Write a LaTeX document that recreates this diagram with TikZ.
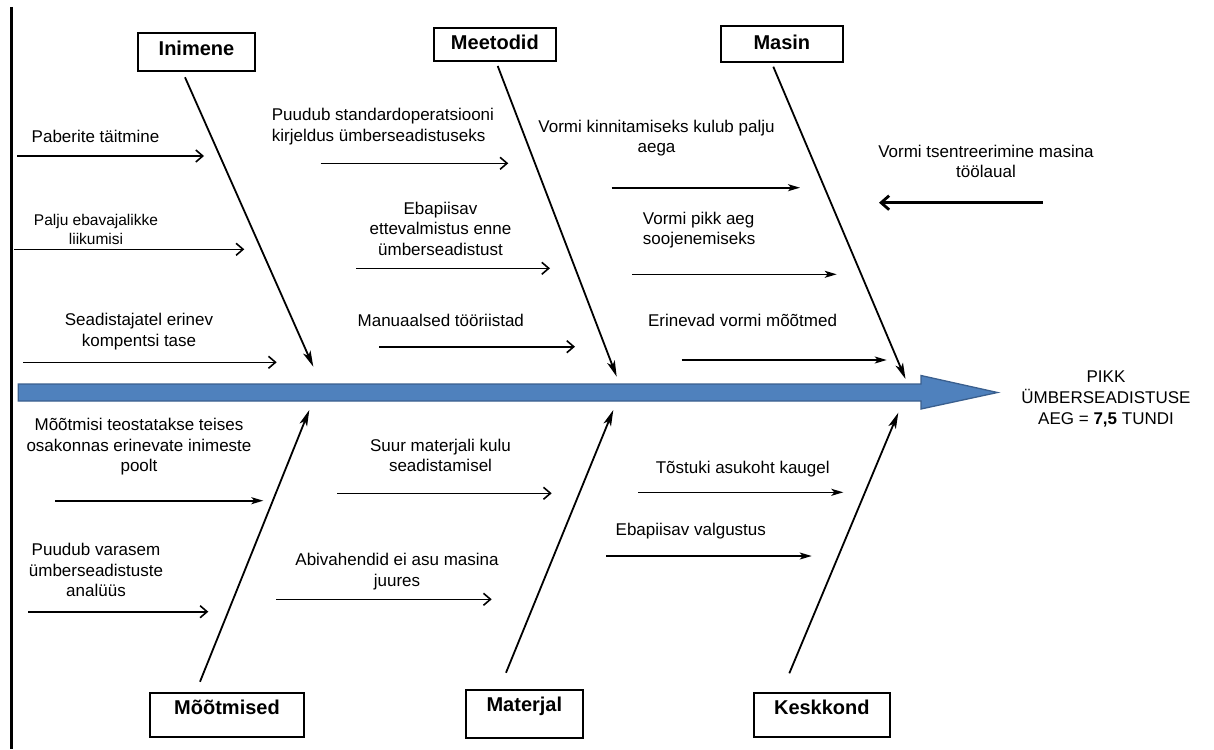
\documentclass[tikz,border=0pt]{standalone}
\usepackage{fontspec}
\setmainfont{Liberation Sans}
\usetikzlibrary{arrows.meta}
\definecolor{spinefill}{HTML}{4F81BD}
\definecolor{spinedraw}{HTML}{3A5F8E}
\begin{document}
\begin{tikzpicture}[x=1pt,y=-1pt,
  cause/.style={font=\fontsize{17}{20.5}\selectfont, align=center, inner sep=0pt, anchor=north, execute at begin node=\strut},
  causesmall/.style={cause, font=\fontsize{15.5}{18.7}\selectfont},
  catbox/.style={draw, line width=2pt, inner sep=0pt, anchor=north west, font=\bfseries\fontsize{20}{24}\selectfont},
  openarrow/.style={line width=1.6pt, -{Straight Barb[length=7pt,width=12pt]}},
  stealtharrow/.style={line width=1.6pt, -{Stealth[length=12pt,width=7pt,inset=3pt]}},
  thickopen/.style={line width=2.8pt, -{Straight Barb[length=8pt,width=14pt]}},
  bone/.style={line width=1.8pt, -{Stealth[length=16pt,width=8pt,inset=4pt]}}]
\useasboundingbox (0,0) rectangle (1214,749);

% left border line
\draw[line width=3pt] (11,7) -- (11,749);

% spine
\draw[fill=spinefill, draw=spinedraw, line width=1.3pt]
  (18.3,384) -- (921,384) -- (921,375.5) -- (997.5,392.5) -- (921,409) -- (921,401) -- (18.3,401) -- cycle;

% category boxes
\node[catbox, minimum width=117pt, minimum height=38.6pt, text height=22.8pt, text depth=15.8pt] (inimene) at (137,31.7) {Inimene};
\node[catbox, minimum width=122.3pt, minimum height=33pt, text height=21.8pt, text depth=11.2pt] (meetodid) at (432.7,26.7) {Meetodid};
\node[catbox, minimum width=121.7pt, minimum height=36pt, text height=23.2pt, text depth=12.8pt] (masin) at (720,25.3) {Masin};
\node[catbox, minimum width=154pt, minimum height=43.7pt, text height=21.3pt, text depth=22.4pt] (mootmised) at (149,692) {Mõõtmised};
\node[catbox, minimum width=116.7pt, minimum height=48.6pt, text height=21.8pt, text depth=26.8pt] (materjal) at (465,688.7) {Materjal};
\node[catbox, minimum width=136.3pt, minimum height=43.7pt, text height=21pt, text depth=22.7pt] (keskkond) at (752.7,692) {Keskkond};

% bone coordinates
\coordinate (d1s) at (185,77.3);   \coordinate (d1e) at (313.3,366.7);
\coordinate (d2s) at (497.7,66);   \coordinate (d2e) at (616.7,376.7);
\coordinate (d3s) at (773.3,66.7); \coordinate (d3e) at (905.5,379);
\coordinate (d4s) at (200,681.7);  \coordinate (d4e) at (309.3,410);
\coordinate (d5s) at (506,672.7);  \coordinate (d5e) at (613.3,410);
\coordinate (d6s) at (789.3,673.3);\coordinate (d6e) at (898.3,412.7);
\draw[bone] (d1s) -- (d1e);
\draw[bone] (d2s) -- (d2e);
\draw[bone] (d3s) -- (d3e);
\draw[bone] (d4s) -- (d4e);
\draw[bone] (d5s) -- (d5e);
\draw[bone] (d6s) -- (d6e);

% cause texts
\node[cause] (t1) at (95.5,128.35) {Paberite täitmine};
\node[causesmall] (t2) at (96,214.2) {Palju ebavajalikke\\liikumisi};
\node[cause] (t3) at (139,313.15) {Seadistajatel erinev\\kompentsi tase};
\node[cause, align=left, anchor=north west] (t4) at (271.7,108.35) {Puudub standardoperatsiooni\\kirjeldus ümberseadistuseks};
\node[cause] (t5) at (440.5,201.65) {Ebapiisav\\ettevalmistus enne\\ümberseadistust};
\node[cause] (t6) at (440.8,312.35) {Manuaalsed tööriistad};
\node[cause] (t7) at (656.5,119.95) {Vormi kinnitamiseks kulub palju\\aega};
\node[cause, align=left, anchor=north west] (t8) at (642.7,211.65) {Vormi pikk aeg\\soojenemiseks};
\node[cause] (t9) at (742.5,312.35) {Erinevad vormi mõõtmed};
\node[cause] (t10) at (986,144.95) {Vormi tsentreerimine masina\\töölaual};
\node[cause] (t11) at (139,418.35) {Mõõtmisi teostatakse teises\\osakonnas erinevate inimeste\\poolt};
\node[cause] (t12) at (96,543.35) {Puudub varasem\\ümberseadistuste\\analüüs};
\node[cause] (t13) at (440.5,438.95) {Suur materjali kulu\\seadistamisel};
\node[cause] (t14) at (397,553.35) {Abivahendid ei asu masina\\juures};
\node[cause] (t15) at (742.7,458.95) {Tõstuki asukoht kaugel};
\node[cause] (t16) at (690.8,520.95) {Ebapiisav valgustus};

% effect
\node[cause, font=\fontsize{17}{21}\selectfont] (effect) at (1106,370.6) {PIKK\\ÜMBERSEADISTUSE\\AEG = {\bfseries 7,5} TUNDI};

% cause arrows
\coordinate (a1s) at (17.3,156);   \coordinate (a1e) at (204,156);
\coordinate (a2s) at (14.3,249.3); \coordinate (a2e) at (244.3,249.3);
\coordinate (a3s) at (23.3,362.3); \coordinate (a3e) at (276.7,362.3);
\coordinate (a4s) at (320.7,163.3);\coordinate (a4e) at (508.3,163.3);
\coordinate (a5s) at (356,268.3);  \coordinate (a5e) at (550,268.3);
\coordinate (a6s) at (379.3,346.7);\coordinate (a6e) at (575,346.7);
\coordinate (a7s) at (611.7,187.7);\coordinate (a7e) at (800,187.7);
\coordinate (a8s) at (632.3,274.3);\coordinate (a8e) at (836.7,274.3);
\coordinate (a9s) at (681.7,360);  \coordinate (a9e) at (886.7,360);
\coordinate (a10s) at (1042.7,202.7);\coordinate (a10e) at (879,202.7);
\coordinate (a11s) at (55,500.7);  \coordinate (a11e) at (263.3,500.7);
\coordinate (a12s) at (28.3,611.7);\coordinate (a12e) at (208.3,611.7);
\coordinate (a13s) at (337.3,493.3);\coordinate (a13e) at (551.7,493.3);
\coordinate (a14s) at (276,599.3); \coordinate (a14e) at (491.7,599.3);
\coordinate (a15s) at (638.3,492.3);\coordinate (a15e) at (843.3,492.3);
\coordinate (a16s) at (606,556);   \coordinate (a16e) at (811.7,556);

\draw[openarrow] (a1s) -- (a1e);
\draw[openarrow] (a2s) -- (a2e);
\draw[openarrow] (a3s) -- (a3e);
\draw[openarrow] (a4s) -- (a4e);
\draw[openarrow] (a5s) -- (a5e);
\draw[openarrow] (a6s) -- (a6e);
\draw[stealtharrow] (a7s) -- (a7e);
\draw[stealtharrow] (a8s) -- (a8e);
\draw[stealtharrow] (a9s) -- (a9e);
\draw[thickopen] (a10s) -- (a10e);
\draw[stealtharrow] (a11s) -- (a11e);
\draw[openarrow] (a12s) -- (a12e);
\draw[openarrow] (a13s) -- (a13e);
\draw[openarrow] (a14s) -- (a14e);
\draw[stealtharrow] (a15s) -- (a15e);
\draw[stealtharrow] (a16s) -- (a16e);
\end{tikzpicture}
\end{document}
